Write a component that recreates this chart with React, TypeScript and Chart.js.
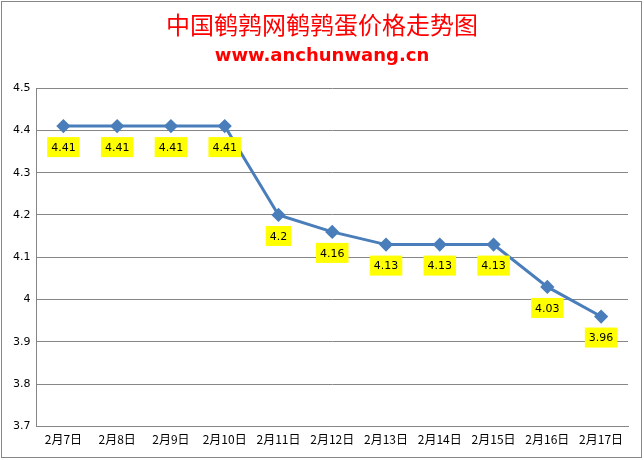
import Chart from 'chart.js/auto';
import { useEffect, useRef } from 'react';

const labels = ['2月7日', '2月8日', '2月9日', '2月10日', '2月11日', '2月12日', '2月13日', '2月14日', '2月15日', '2月16日', '2月17日'];
const prices = [4.41, 4.41, 4.41, 4.41, 4.2, 4.16, 4.13, 4.13, 4.13, 4.03, 3.96];
const yMin = 3.7;
const yMax = 4.5;
const yStep = 0.1;

const titleText = '中国鹌鹑网鹌鹑蛋价格走势图';
const subtitleText = 'www.anchunwang.cn';

// yellow boxes under each point
const valueBoxes = {
    id: 'valueBoxes',
    afterDatasetsDraw: (chart: any) => {
        const { ctx } = chart;
        const meta = chart.getDatasetMeta(0);
        ctx.save();
        ctx.font = '11px "DejaVu Sans"';
        ctx.textAlign = 'center';
        ctx.textBaseline = 'middle';
        meta.data.forEach((pt: any, i: number) => {
            const txt = String(prices[i]);
            const w = ctx.measureText(txt).width + 8;
            const h = 20;
            const cx = pt.x;
            const cy = pt.y + 21;
            ctx.fillStyle = '#ffff00';
            ctx.fillRect(cx - w / 2, cy - h / 2, w, h);
            ctx.fillStyle = '#000000';
            ctx.fillText(txt, cx, cy + 1);
        });
        ctx.restore();
    },
};

// titles centred on the whole picture, plus the outer frame
const frameAndTitles = {
    id: 'frameAndTitles',
    afterDraw: (chart: any) => {
        const { ctx, width, height } = chart;
        ctx.save();
        ctx.strokeStyle = '#868686';
        ctx.lineWidth = 1;
        ctx.strokeRect(1.5, 1.5, width - 4, height - 4);
        ctx.fillStyle = '#ff0000';
        ctx.textAlign = 'center';
        ctx.textBaseline = 'middle';
        ctx.font = '24px "Noto Sans CJK SC"';
        ctx.fillText(titleText, width / 2, 25);
        ctx.font = 'bold 18px "DejaVu Sans"';
        ctx.fillText(subtitleText, width / 2, 56);
        ctx.restore();
    },
};

export default function App() {
    const chartRef = useRef<HTMLCanvasElement>(null);

    useEffect(() => {
        const ctx = chartRef.current?.getContext('2d');
        if (!ctx) return;
        const chart = new Chart(ctx, {
            type: 'line',
            data: {
                labels: labels,
                datasets: [
                    {
                        data: prices,
                        borderColor: '#4a7ebb',
                        backgroundColor: '#4a7ebb',
                        borderWidth: 3,
                        pointStyle: 'rectRot',
                        pointRadius: 5,
                        pointBackgroundColor: '#4a7ebb',
                        pointBorderColor: '#4a7ebb',
                        tension: 0,
                    },
                ],
            },
            options: {
                responsive: false,
                animation: false,
                layout: {
                    padding: { left: 7, right: 16, bottom: 7, top: 88 },
                },
                plugins: {
                    legend: { display: false },
                    tooltip: { enabled: false },
                    title: { display: false },
                },
                scales: {
                    y: {
                        min: yMin,
                        max: yMax,
                        ticks: {
                            stepSize: yStep,
                            color: '#000000',
                            font: { family: '"DejaVu Sans"', size: 11 },
                            padding: 6,
                            callback: (value: any) => `${Number(Number(value).toFixed(1))}`,
                        },
                        grid: { color: '#868686', drawTicks: false },
                        border: { display: true, color: '#868686' },
                    },
                    x: {
                        offset: true,
                        ticks: {
                            color: '#000000',
                            font: { family: '"Noto Sans CJK SC"', size: 12 },
                            padding: 6,
                            maxRotation: 0,
                            autoSkip: false,
                        },
                        grid: { display: false, drawTicks: false },
                        border: { display: true, color: '#868686' },
                    },
                },
            },
            plugins: [valueBoxes, frameAndTitles],
        });
        return () => {
            chart.destroy();
        };
    }, []);

    return (
        <div style={{ position: 'fixed', left: 0, top: 0, width: 644, height: 460, background: '#ffffff' }}>
            <canvas ref={chartRef} width={644} height={460} />
        </div>
    );
}
